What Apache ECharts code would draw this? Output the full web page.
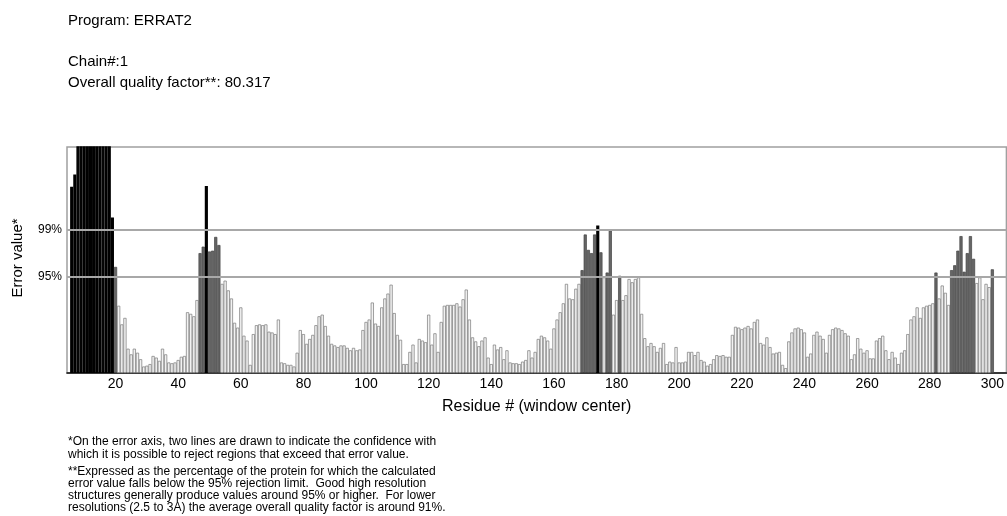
<!DOCTYPE html>
<html>
<head>
<meta charset="utf-8">
<script src="https://cdn.jsdelivr.net/npm/echarts@6/dist/echarts.min.js"></script>
<style>
  html, body { margin: 0; padding: 0; background: #fff; }
  #chart { width: 1007px; height: 516px; }
</style>
</head>
<body>
<div id="chart"></div>
<script>
// residue axis (window centre) and the ERRAT error value per residue
var axisStart = 5
var axisEnd = 304
var firstResidue = 6
var errorValues = [
  23.0, 24.5, 33, 38, 45, 52, 58, 60, 55, 49, 42, 36, 30, 19.2,          // 6-19
  13.1, 8.3, 6.0, 6.8, 3.0, 2.3, 3.0, 2.5, 1.7, 0.8,                     // 20-29
  0.9, 1.1, 2.1, 1.9, 1.5, 3.0, 2.3, 1.3, 1.2, 1.3,                      // 30-39
  1.6, 2.0, 2.1, 7.5, 7.3, 7.0, 9.0, 14.8, 15.6, 23.1,                   // 40-49
  15.0, 15.1, 16.8, 15.8, 11.0, 11.4, 10.2, 9.2, 6.2, 5.6,               // 50-59
  8.1, 4.6, 4.0, 1.0, 4.8, 5.9, 6.0, 5.9, 6.0, 5.1,                      // 60-69
  5.0, 4.8, 6.6, 1.3, 1.2, 1.0, 1.0, 0.8, 2.5, 5.3,                      // 70-79
  4.8, 3.6, 4.2, 4.7, 5.9, 7.0, 7.2, 5.8, 4.6, 3.6,                      // 80-89
  3.4, 3.2, 3.4, 3.4, 3.1, 2.8, 3.1, 2.8, 2.9, 5.3,                      // 90-99
  6.3, 6.6, 8.7, 6.1, 5.8, 8.1, 9.2, 9.8, 10.9, 7.4,                     // 100-109
  4.7, 4.1, 1.1, 1.1, 2.6, 3.5, 1.3, 4.2, 4.0, 3.8,                      // 110-119
  7.2, 3.5, 4.9, 2.6, 6.3, 8.3, 8.4, 8.4, 8.4, 8.6,                      // 120-129
  8.2, 9.1, 10.3, 6.6, 4.4, 3.9, 3.3, 4.0, 4.4, 1.9,                     // 130-139
  1.1, 3.5, 2.9, 3.2, 1.7, 2.8, 1.3, 1.2, 1.2, 1.1,                      // 140-149
  1.4, 1.6, 2.8, 1.9, 2.6, 4.2, 4.6, 4.4, 4.0, 3.0,                      // 150-159
  5.5, 6.6, 7.5, 8.6, 11.0, 9.2, 9.1, 10.4, 11.0, 12.7,                  // 160-169
  17.1, 15.2, 14.8, 17.1, 18.2, 14.9, 11.8, 12.4, 17.6, 7.2,             // 170-179
  9.0, 12.0, 9.0, 9.6, 11.6, 11.2, 11.6, 11.8, 7.3, 4.3,                 // 180-189
  3.3, 3.7, 3.3, 2.6, 3.1, 3.7, 1.1, 1.4, 1.3, 3.2,                      // 190-199
  1.3, 1.3, 1.4, 2.6, 2.6, 2.2, 2.6, 1.6, 1.4, 0.9,                      // 200-209
  1.1, 1.7, 2.2, 2.1, 2.2, 2.0, 2.0, 4.7, 5.7, 5.6,                      // 210-219
  5.4, 5.6, 5.8, 5.5, 6.3, 6.6, 3.7, 3.5, 4.4, 3.2,                      // 220-229
  2.4, 2.5, 2.6, 1.0, 0.6, 3.9, 5.0, 5.5, 5.6, 5.4,                      // 230-239
  5.0, 2.0, 2.4, 4.7, 5.1, 4.6, 4.2, 2.5, 4.7, 5.4,                      // 240-249
  5.6, 5.5, 5.3, 4.9, 4.6, 1.7, 2.3, 4.3, 3.0, 2.5,                      // 250-259
  2.8, 1.8, 1.8, 4.0, 4.3, 4.6, 2.8, 1.7, 2.6, 1.9,                      // 260-269
  1.1, 2.5, 2.8, 4.8, 6.6, 7.0, 8.1, 6.8, 8.1, 8.3,                      // 270-279
  8.4, 8.6, 12.4, 9.2, 10.8, 9.9, 8.4, 12.7, 13.3, 15.1,                 // 280-289
  16.9, 12.5, 14.8, 16.9, 14.1, 11.1, 11.8, 9.1, 11.0, 10.6,             // 290-299
  12.8                                                                   // 300
]
var limitValues = [11.9, 17.7]
var limitLabels = ['95%', '99%']
var errorMax = 27.9

function barColor(v) {
  if (v > limitValues[1]) return { fill: '#000000', line: '#000000', w: 1.4 }
  if (v >= limitValues[0]) return { fill: '#666666', line: '#444444', w: 0.7 }
  return { fill: '#f2f2f2', line: '#7a7a7a', w: 0.7 }
}

var residues = []
var barData = []
for (var r = axisStart; r <= axisEnd; r++) {
  residues.push(String(r))
  var v = errorValues[r - firstResidue]
  if (v === undefined) {
    barData.push('-')
  } else {
    var c = barColor(v)
    barData.push({ value: v, itemStyle: { color: c.fill, borderColor: c.line, borderWidth: c.w } })
  }
}

var chart = echarts.init(document.getElementById('chart'))
chart.setOption({
  animation: false,
  textStyle: { fontFamily: 'Liberation Sans, Arial, sans-serif' },
  grid: {
    left: 67, right: 0, top: 147, bottom: 143,
    show: true, borderColor: '#a0a0a0', borderWidth: 1.5
  },
  xAxis: {
    type: 'category',
    data: residues,
    boundaryGap: true,
    name: 'Residue # (window center)',
    nameLocation: 'middle',
    nameGap: 26,
    nameTextStyle: { fontSize: 16, color: '#000' },
    axisLine: { lineStyle: { color: '#111', width: 1.5 } },
    axisTick: {
      alignWithLabel: true,
      length: 3,
      interval: function (idx, val) { return +val % 10 === 0 },
      lineStyle: { color: '#333' }
    },
    axisLabel: {
      interval: function (idx, val) { return +val % 20 === 0 },
      fontSize: 14, color: '#000', margin: 4
    },
    splitLine: { show: false }
  },
  yAxis: {
    type: 'value',
    min: 0,
    max: errorMax,
    axisLine: { show: false },
    axisTick: { show: false },
    axisLabel: { show: false },
    splitLine: { show: false }
  },
  series: [
    {
      type: 'line',
      data: [],
      z: 1,
      silent: true,
      markLine: {
        symbol: 'none',
        silent: true,
        lineStyle: { color: '#a8a8a8', width: 2, type: 'solid' },
        label: {
          position: 'start',
          distance: 5,
          color: '#000',
          fontSize: 12,
          formatter: function (p) { return limitLabels[p.dataIndex] }
        },
        data: limitValues.map(function (v) { return { yAxis: v } })
      }
    },
    {
      type: 'bar',
      z: 2,
      data: barData,
      barCategoryGap: '0%'
    }
  ],
  graphic: [
    { type: 'text', left: 68, top: 13, style: { text: 'Program: ERRAT2', font: '15px Liberation Sans', fill: '#000' } },
    { type: 'text', left: 68, top: 54, style: { text: 'Chain#:1', font: '15px Liberation Sans', fill: '#000' } },
    { type: 'text', left: 68, top: 75, style: { text: 'Overall quality factor**: 80.317', font: '15px Liberation Sans', fill: '#000' } },
    {
      type: 'text', x: 18, y: 258, rotation: Math.PI / 2,
      style: { text: 'Error value*', font: '15px Liberation Sans', fill: '#000', align: 'center', verticalAlign: 'middle' }
    },
    {
      type: 'text', left: 68, top: 436,
      style: {
        text: '*On the error axis, two lines are drawn to indicate the confidence with\nwhich it is possible to reject regions that exceed that error value.',
        font: '12px Liberation Sans', fill: '#000', lineHeight: 12.3
      }
    },
    {
      type: 'text', left: 68, top: 466,
      style: {
        text: '**Expressed as the percentage of the protein for which the calculated\nerror value falls below the 95% rejection limit.  Good high resolution\nstructures generally produce values around 95% or higher.  For lower\nresolutions (2.5 to 3A) the average overall quality factor is around 91%.',
        font: '12px Liberation Sans', fill: '#000', lineHeight: 11.9
      }
    }
  ]
})
</script>
</body>
</html>
